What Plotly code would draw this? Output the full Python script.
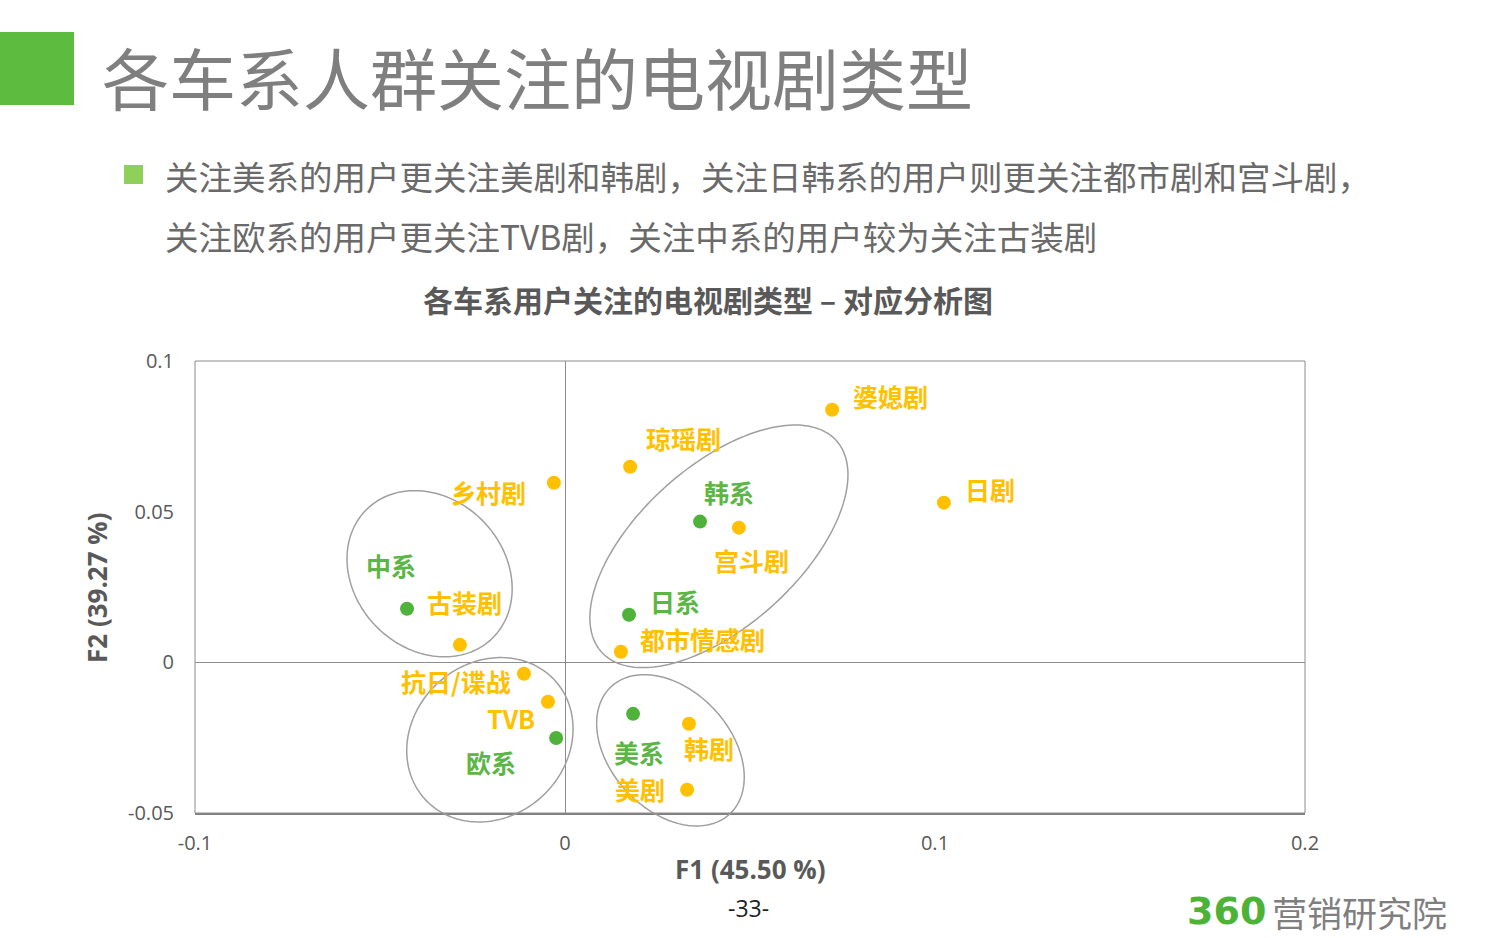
import numpy as np
import plotly.graph_objects as go

# ---------------- data ----------------
drama_names = ["婆媳剧", "琼瑶剧", "乡村剧", "日剧", "宫斗剧", "古装剧", "都市情感剧",
               "抗日/谍战", "TVB", "韩剧", "美剧"]
drama_f1 = [0.0722, 0.0176, -0.0030, 0.1024, 0.0470, -0.0284, 0.0151, -0.0111, -0.0046, 0.0335, 0.0330]
drama_f2 = [0.0838, 0.0649, 0.0596, 0.0530, 0.0447, 0.0058, 0.0035, -0.0038, -0.0131, -0.0204, -0.0423]

car_names = ["韩系", "中系", "日系", "美系", "欧系"]
car_f1 = [0.0365, -0.0427, 0.0173, 0.0184, -0.0024]
car_f2 = [0.0467, 0.0178, 0.0158, -0.0171, -0.0251]

x_ticks = [-0.1, 0, 0.1, 0.2]
x_tick_labels = ["-0.1", "0", "0.1", "0.2"]
y_ticks = [-0.05, 0, 0.05, 0.1]
y_tick_labels = ["-0.05", "0", "0.05", "0.1"]

# ---------------- layout / style ----------------
W, H = 1500, 938
ML, MR, MT, MB = 195, 195, 361, 125
XR = [-0.1, 0.2]
YR = [-0.05, 0.1]
PW, PH = W - ML - MR, H - MT - MB
sx = PW / (XR[1] - XR[0])
sy = PH / (YR[1] - YR[0])

YELLOW = "#FFC000"
GREEN = "#4FB33B"
GREEN_TXT = "#5CB646"
GRAY_TXT = "#595959"
CJK = "Noto Sans CJK SC"

# label offsets (pixels) for each point
drama_off = [(58, -14), (53, -29), (-65, 9), (46, -14), (13, 32), (5, -43), (82, -13),
             (-68, 7), (-37, 16), (20, 24), (-47, -1)]
car_off = [(29, -30), (-16, -44), (46, -14), (6, 38), (-65, 24)]

# grouping ellipses: center (data), semi-axes (px), rotation (deg, screen)
ellipses = [
    dict(cx=-0.0366, cy=0.0294, a=90, b=75, ang=46),
    dict(cx=0.0416, cy=0.0385, a=158, b=80, ang=-42),
    dict(cx=-0.0203, cy=-0.0257, a=88, b=77, ang=-42.5),
    dict(cx=0.0285, cy=-0.0292, a=87, b=60, ang=47),
]

fig = go.Figure()

fig.add_trace(go.Scatter(x=drama_f1, y=drama_f2, mode="markers", text=drama_names,
                         marker=dict(color=YELLOW, size=14), showlegend=False))
fig.add_trace(go.Scatter(x=car_f1, y=car_f2, mode="markers", text=car_names,
                         marker=dict(color=GREEN, size=14), showlegend=False))

# ellipses (paper-referenced paths so they may extend past the axis, like the original)
t = np.linspace(0, 2 * np.pi, 200)
for e in ellipses:
    th = np.radians(e["ang"])
    dxp = e["a"] * np.cos(t) * np.cos(th) - e["b"] * np.sin(t) * np.sin(th)
    dyp = e["a"] * np.cos(t) * np.sin(th) + e["b"] * np.sin(t) * np.cos(th)
    xd = e["cx"] + dxp / sx
    yd = e["cy"] - dyp / sy
    xp = (xd - XR[0]) / (XR[1] - XR[0])
    yp = (yd - YR[0]) / (YR[1] - YR[0])
    path = "M " + " L ".join(f"{a:.5f},{b:.5f}" for a, b in zip(xp, yp)) + " Z"
    fig.add_shape(type="path", xref="paper", yref="paper", path=path,
                  line=dict(color="#A0A0A0", width=1.5), layer="above")

for n, x, y, (ox, oy) in zip(drama_names, drama_f1, drama_f2, drama_off):
    fig.add_annotation(x=x, y=y, text=n, showarrow=True, arrowcolor="rgba(0,0,0,0)",
                       ax=ox, ay=oy, font=dict(family=CJK, size=25, color=YELLOW, weight="bold"))
for n, x, y, (ox, oy) in zip(car_names, car_f1, car_f2, car_off):
    fig.add_annotation(x=x, y=y, text=n, showarrow=True, arrowcolor="rgba(0,0,0,0)",
                       ax=ox, ay=oy, font=dict(family=CJK, size=25, color=GREEN_TXT, weight="bold"))

# frame
fig.add_shape(type="rect", xref="paper", yref="paper", x0=0, y0=0, x1=1, y1=1,
              line=dict(color="#8C8C8C", width=1))

# header decorations
fig.add_shape(type="rect", xref="paper", yref="paper",
              x0=-ML / PW, x1=(74 - ML) / PW,
              y0=1 + (MT - 105) / PH, y1=1 + (MT - 32) / PH,
              fillcolor="#5DBB3F", line=dict(width=0))
fig.add_shape(type="rect", xref="paper", yref="paper",
              x0=(124 - ML) / PW, x1=(143 - ML) / PW,
              y0=1 + (MT - 184) / PH, y1=1 + (MT - 165) / PH,
              fillcolor="#8ED05A", line=dict(width=0))


def px_to_paper(px, py):
    return (px - ML) / PW, 1 - (py - MT) / PH


def add_text(px, py, text, size, color, xanchor="left", bold=False, family=CJK, textangle=0):
    x, y = px_to_paper(px, py)
    fig.add_annotation(xref="paper", yref="paper", x=x, y=y, text=text, showarrow=False,
                       xanchor=xanchor, yanchor="middle", textangle=textangle,
                       font=dict(family=family, size=size, color=color,
                                 weight="bold" if bold else "normal"))


add_text(100, 75, "各车系人群关注的电视剧类型", 67, "#7F7F7F")
add_text(163, 175, "关注美系的用户更关注美剧和韩剧，关注日韩系的用户则更关注都市剧和宫斗剧，", 33.5, "#6A6A6A")
add_text(163, 235, "关注欧系的用户更关注TVB剧，关注中系的用户较为关注古装剧", 33.5, "#6A6A6A")
add_text(708, 299, "各车系用户关注的电视剧类型 – 对应分析图", 30, GRAY_TXT, xanchor="center", bold=True)
add_text(750, 869, "F1 (45.50 %)", 26, GRAY_TXT, xanchor="center", bold=True, family="Open Sans")
add_text(97, 588, "F2 (39.27 %)", 26, GRAY_TXT, xanchor="center", bold=True, family="Open Sans",
         textangle=-90)
add_text(748, 908, "-33-", 23, "#222222", xanchor="center", family="Open Sans")
add_text(1268, 911, "<b>360</b>", 38, "#4DB336", xanchor="right", family="DejaVu Sans")
add_text(1270, 911, "营销研究院", 35, "#7F7F7F")

fig.update_layout(
    width=W, height=H, margin=dict(l=ML, r=MR, t=MT, b=MB),
    plot_bgcolor="white", paper_bgcolor="white",
    xaxis=dict(range=XR, tickvals=x_ticks, ticktext=x_tick_labels, showgrid=False,
               zeroline=True, zerolinecolor="#8C8C8C", zerolinewidth=1,
               showline=True, linecolor="#7F7F7F", linewidth=2, ticks="",
               ticklabelstandoff=11,
               tickfont=dict(family="Open Sans", size=20, color=GRAY_TXT)),
    yaxis=dict(range=YR, tickvals=y_ticks, ticktext=y_tick_labels, showgrid=False,
               zeroline=True, zerolinecolor="#8C8C8C", zerolinewidth=1,
               showline=False, ticks="", ticklabelstandoff=20,
               tickfont=dict(family="Open Sans", size=20, color=GRAY_TXT)),
)

fig.write_html("out.html", config={"displayModeBar": False},
               post_script="document.body.style.margin='0';")
